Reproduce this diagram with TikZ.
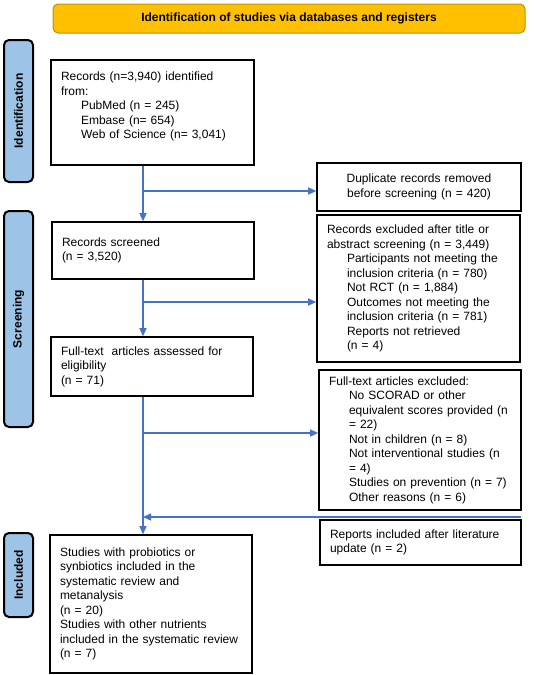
\documentclass[tikz,border=0pt]{standalone}
\usepackage{fontspec}
\setmainfont{Liberation Sans}
\usetikzlibrary{arrows.meta}
\definecolor{arrowblue}{HTML}{4472C4}
\definecolor{sideblue}{HTML}{9DC3E6}
\definecolor{bannergold}{HTML}{FFC000}
\definecolor{bannerline}{HTML}{BF9000}
\newcommand\ind{\hspace*{20pt}}
\begin{document}
\begin{tikzpicture}[x=1pt,y=-1pt,
  every node/.style={font=\fontsize{12}{14.5}\selectfont},
  box/.style={draw=black,line width=1.6pt,fill=white,inner xsep=10pt,inner ysep=2pt,align=left},
  boxwh/.style n args={3}{minimum width=#1pt,minimum height=#2pt,text width=#3pt},
  sidebox/.style={draw=black,line width=2pt,fill=sideblue,rounded corners=5pt,rotate=90,
    inner sep=0pt,minimum height=29pt,font=\fontsize{12}{14.5}\selectfont\bfseries},
  banner/.style={draw=bannerline,line width=1pt,fill=bannergold,rounded corners=5pt,
    minimum width=472pt,minimum height=29pt,font=\fontsize{12}{14.5}\selectfont\bfseries},
  arr/.style={draw=arrowblue,line width=1.3pt,-{Triangle[length=8pt,width=7pt]}}
]
\useasboundingbox (0,0) rectangle (540,675);

\node[banner] (banner) at (289,18.5) {Identification of studies via databases and registers};

\node[sidebox,minimum width=142pt] (sideI) at (18.5,111) {Identification};
\node[sidebox,minimum width=216pt] (sideS) at (18.5,319) {Screening};
\node[sidebox,minimum width=84pt] (sideInc) at (18.5,575) {Included};

\node[box,boxwh={203}{105}{183}] (ident) at (152.5,112.5)
 {Records (n=3,940) identified\\from:\\\ind PubMed (n = 245)\\\ind Embase (n= 654)\\\ind Web of Science (n= 3,041)\\\mbox{}};
\node[box,boxwh={204}{48}{184},align=center] (dup) at (419,187)
 {Duplicate records removed\\before screening (n = 420)};
\node[box,boxwh={202}{57}{182}] (screened) at (153,250.5)
 {Records screened\\(n = 3,520)};
\node[box,boxwh={203}{147}{183}] (excl) at (418.5,288.5)
 {Records excluded after title or\\abstract screening (n = 3,449)\\\ind Participants not meeting the\\\ind inclusion criteria (n = 780)\\\ind Not RCT (n = 1,884)\\\ind Outcomes not meeting the\\\ind inclusion criteria (n = 781)\\\ind Reports not retrieved\\\ind (n = 4)};
\node[box,boxwh={202}{59}{182}] (full) at (152,366.5)
 {Full-text~ articles assessed for\\eligibility\\(n = 71)};
\node[box,boxwh={202}{140}{182}] (ftexcl) at (420,440)
 {Full-text articles excluded:\\\ind No SCORAD or other\\\ind equivalent scores provided (n\\\ind = 22)\\\ind Not in children (n = 8)\\\ind Not interventional studies (n\\\ind = 4)\\\ind Studies on prevention (n = 7)\\\ind Other reasons (n = 6)};
\node[box,boxwh={201}{45}{181}] (update) at (420.5,542.5)
 {Reports included after literature\\update (n = 2)};
\node[box,boxwh={202}{138}{182}] (incl) at (151,604)
 {Studies with probiotics or\\synbiotics included in the\\systematic review and\\metanalysis\\(n = 20)\\Studies with other nutrients\\included in the systematic review\\(n = 7)};

\coordinate (mx) at (143,0);
\coordinate (b1) at (143,191);
\coordinate (b2) at (143,302);
\coordinate (b3) at (143,433);
\coordinate (u) at (521,517);

\draw[arr] (ident.south -| mx) -- (screened.north -| mx);
\draw[arr] (b1) -- (b1 -| dup.west);
\draw[arr] (screened.south -| mx) -- (full.north -| mx);
\draw[arr] (b2) -- (b2 -| excl.west);
\draw[arr] (full.south -| mx) -- (incl.north -| mx);
\draw[arr] (b3) -- (b3 -| ftexcl.west);
\draw[arr] (u) -- (u -| mx);
\end{tikzpicture}
\end{document}
